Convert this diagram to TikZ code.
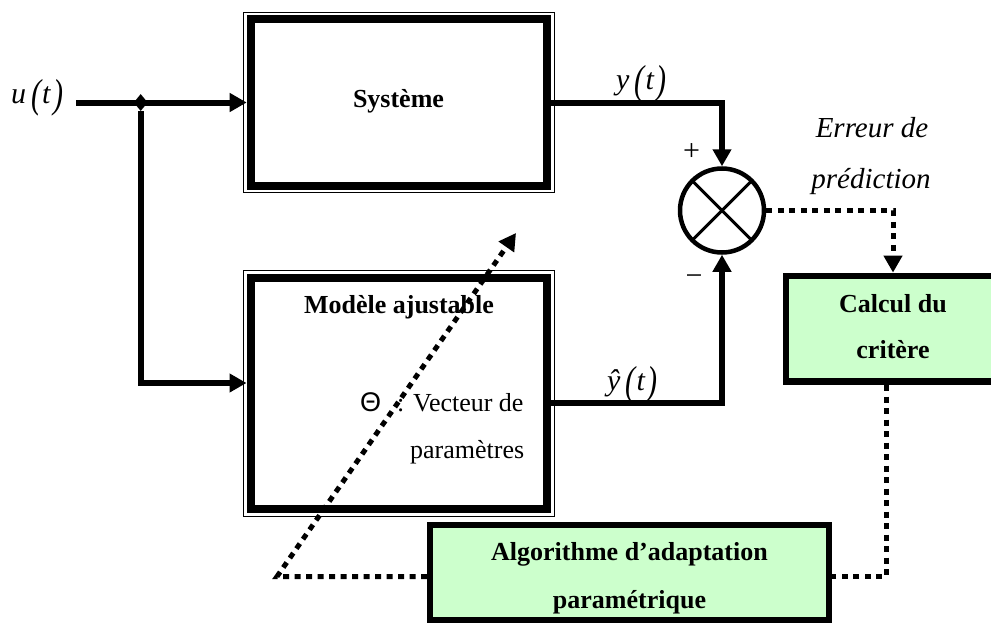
\documentclass[tikz,border=0pt]{standalone}
\usepackage{fontspec}
\setmainfont{Liberation Serif}
\newfontfamily\grsans{Liberation Sans}
\usetikzlibrary{arrows.meta,shapes.geometric,calc}
\definecolor{lgreen}{HTML}{CCFFCC}
\newcommand\sigt[1]{#1\kern5pt\raisebox{-4.5pt}{\scalebox{1}[1.35]{(}}\kern1pt{\itshape t}\kern3pt\raisebox{-4.5pt}{\scalebox{1}[1.35]{)}}}
\begin{document}
\begin{tikzpicture}[x=1pt,y=-1pt,
  every node/.style={inner sep=0pt},
  sbox/.style={rectangle, draw, line width=8pt, fill=white},
  gbox/.style={rectangle, draw, fill=lgreen},
  frame/.style={line width=1.3pt},
  sig/.style={line width=6pt},
  dotl/.style={line width=5pt, dash pattern=on 6pt off 5.5pt},
  arr/.style={-{Triangle[length=17pt,width=18pt]}},
  boldtxt/.style={font=\fontsize{26}{30}\selectfont\bfseries},
  romtxt/.style={font=\fontsize{26}{30}\selectfont},
  ittxt/.style={font=\fontsize{29}{33}\selectfont\itshape},
  lbltxt/.style={font=\fontsize{30}{34}\selectfont},
  ]
\useasboundingbox (0,0) rectangle (991,624);
\clip (0,0) rectangle (991,624);

% blocks
\node[sbox, minimum width=296.5pt, minimum height=166.6pt] (sys) at (398.95,102.5) {};
\draw[frame] ($(sys.north west)+(-3,-3)$) rectangle ($(sys.south east)+(3,3)$);
\node[sbox, minimum width=296.7pt, minimum height=231.4pt] (mod) at (398.85,393.5) {};
\draw[frame] ($(mod.north west)+(-3,-3)$) rectangle ($(mod.south east)+(3,3)$);
\node[gbox, line width=6.7pt, minimum width=214pt, minimum height=105.7pt] (calc) at (893,328.8) {};
\node[gbox, line width=6pt, minimum width=398.7pt, minimum height=95.8pt] (alg) at (629.35,572.5) {};
\node[circle, draw, line width=4.5pt, minimum size=84pt, fill=white] (sum) at (722,210.5) {};
\draw[line width=3pt] ($(sum.center)+(45:41)$) -- ($(sum.center)+(225:41)$);
\draw[line width=3pt] ($(sum.center)+(135:41)$) -- ($(sum.center)+(315:41)$);

% texts
\node[boldtxt, anchor=base] (tsys) at (398.5,107) {Système};
\node[boldtxt, anchor=base] (tmod) at (399,313.3) {Modèle ajustable};
\node[romtxt, anchor=base west] (ttheta) at (360,411.7) {\grsans\fontsize{27}{30}\selectfont Θ};
\node[romtxt, anchor=base west] (tvec) at (397,411.7) {: Vecteur de};
\node[romtxt, anchor=base west] (tpar) at (410,458) {paramètres};
\node[boldtxt, anchor=base] (tcal1) at (893,312) {Calcul du};
\node[boldtxt, anchor=base] (tcal2) at (893,358) {critère};
\node[boldtxt, anchor=base] (talg1) at (629.5,560) {Algorithme d’adaptation};
\node[boldtxt, anchor=base] (talg2) at (629.5,608) {paramétrique};
\node[ittxt, anchor=base] (terr1) at (872,137) {Erreur de};
\node[ittxt, anchor=base] (terr2) at (871,188) {prédiction};
\node[lbltxt] (tplus) at (691.7,151.7) {+};
\node[lbltxt] (tminus) at (694,280) {−};
\node[lbltxt, anchor=base west] (tu) at (11,103) {\sigt{\itshape u}};
\node[lbltxt, anchor=base west] (ty) at (616,89) {\sigt{\itshape y}};
\node[lbltxt, anchor=base west] (tyh) at (607,390) {\sigt{\itshape ŷ}};

% connectors
\coordinate (in) at (76,102.5);
\draw[sig,arr] (in) -- (sys.west);
\node[diamond, fill, minimum width=14pt, minimum height=17pt] (j) at (140.7,102.5) {};
\draw[sig,arr] (j.south) |- ($(mod.west)+(0,-10.5)$);
\draw[sig,arr] (sys.east) -| (sum.north);
\draw[sig,arr] ($(mod.east)+(0,9.5)$) -| (sum.south);
\draw[dotl,arr] (sum.east) -| (calc.north);
\draw[dotl] ($(calc.south)+(-7,0)$) |- ($(alg.east)+(0,4)$);
\coordinate (bl) at (277,576.5);
\coordinate (dtip) at (516,233);
\draw[dotl,arr] ($(alg.west)+(0,4)$) -- (bl) -- (dtip);
\end{tikzpicture}
\end{document}
